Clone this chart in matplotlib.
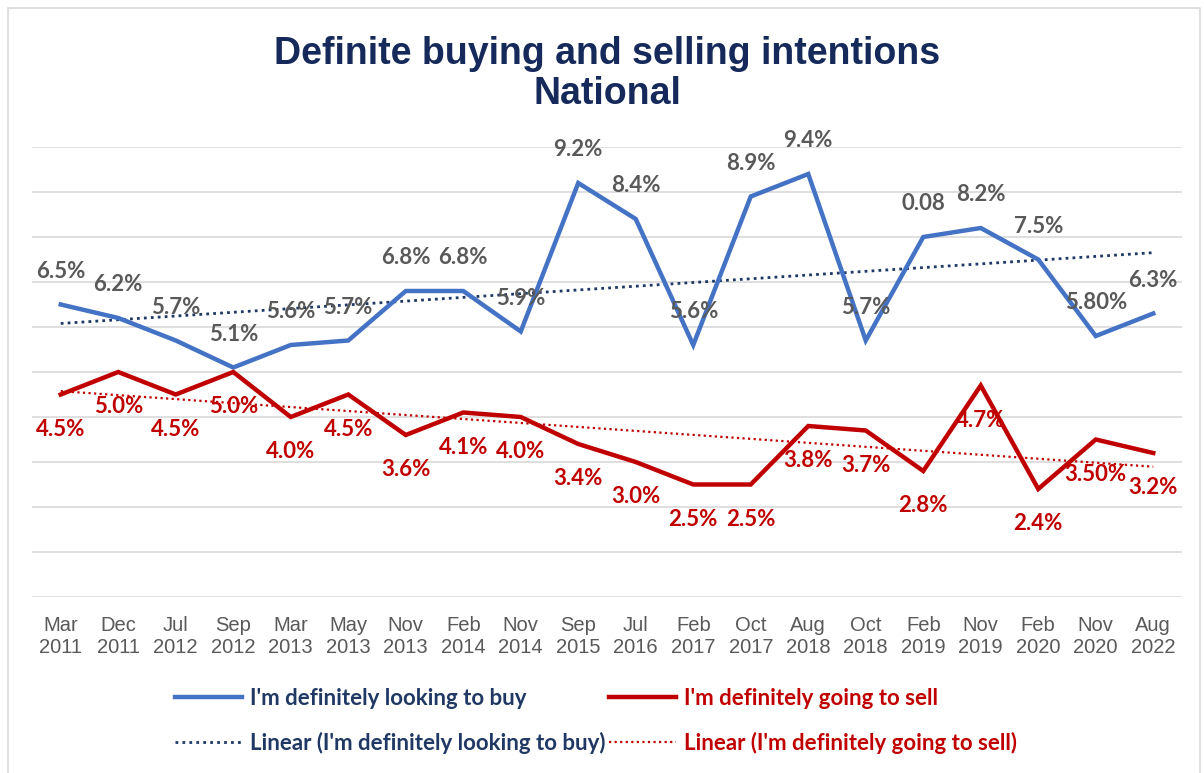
import numpy as np
import matplotlib
matplotlib.use("Agg")
import matplotlib.pyplot as plt
from matplotlib.patches import Rectangle

categories = ["Mar\n2011", "Dec\n2011", "Jul\n2012", "Sep\n2012", "Mar\n2013", "May\n2013",
              "Nov\n2013", "Feb\n2014", "Nov\n2014", "Sep\n2015", "Jul\n2016", "Feb\n2017",
              "Oct\n2017", "Aug\n2018", "Oct\n2018", "Feb\n2019", "Nov\n2019", "Feb\n2020",
              "Nov\n2020", "Aug\n2022"]
buy = [6.5, 6.2, 5.7, 5.1, 5.6, 5.7, 6.8, 6.8, 5.9, 9.2, 8.4, 5.6, 8.9, 9.4, 5.7, 8.0, 8.2, 7.5, 5.8, 6.3]
sell = [4.5, 5.0, 4.5, 5.0, 4.0, 4.5, 3.6, 4.1, 4.0, 3.4, 3.0, 2.5, 2.5, 3.8, 3.7, 2.8, 4.7, 2.4, 3.5, 3.2]
buy_labels = ["6.5%", "6.2%", "5.7%", "5.1%", "5.6%", "5.7%", "6.8%", "6.8%", "5.9%", "9.2%",
              "8.4%", "5.6%", "8.9%", "9.4%", "5.7%", "0.08", "8.2%", "7.5%", "5.80%", "6.3%"]
sell_labels = ["4.5%", "5.0%", "4.5%", "5.0%", "4.0%", "4.5%", "3.6%", "4.1%", "4.0%", "3.4%",
               "3.0%", "2.5%", "2.5%", "3.8%", "3.7%", "2.8%", "4.7%", "2.4%", "3.50%", "3.2%"]
title = "Definite buying and selling intentions\nNational"
buy_name = "I'm definitely looking to buy"
sell_name = "I'm definitely going to sell"

BLUE = "#4472C4"
RED = "#C00000"
NAVY = "#1F3864"
TITLE = "#15295A"
GRAY = "#595959"

W, H = 1204, 773
fig = plt.figure(figsize=(W / 100, H / 100), dpi=100)
fig.patch.set_facecolor("white")
fig.patches.append(Rectangle((8 / W, -0.01), (1200 - 8) / W, 1 - 8 / H + 0.01,
                             transform=fig.transFigure, fill=False,
                             edgecolor="#d9d9d9", linewidth=1.2))

ax = fig.add_axes([32 / W, (H - 597) / H, (1182 - 32) / W, (597 - 147) / H])
x = np.arange(len(categories))
ax.set_xlim(-0.5, len(categories) - 0.5)
ax.set_ylim(0, 10)
ax.set_yticks(np.arange(0, 11, 1))
ax.yaxis.grid(True, color="#d9d9d9", linewidth=1.2)
ax.set_axisbelow(True)
ax.tick_params(axis="y", left=False, labelleft=False)
ax.tick_params(axis="x", bottom=False, pad=10)
for s in ax.spines.values():
    s.set_visible(False)
ax.set_xticks(x)
ax.set_xticklabels(categories, fontsize=14.5, color=GRAY, family="Liberation Sans",
                   linespacing=1.22)

zb = np.polyfit(x, buy, 1)
zs = np.polyfit(x, sell, 1)
lb, = ax.plot(x, buy, color=BLUE, lw=3.2, solid_joinstyle="miter", zorder=3)
ls, = ax.plot(x, sell, color=RED, lw=3.2, solid_joinstyle="miter", zorder=3)
tb, = ax.plot(x, np.polyval(zb, x), color=NAVY, lw=2.0, ls=(0, (1, 1.5)), zorder=2)
ts, = ax.plot(x, np.polyval(zs, x), color=RED, lw=1.6, ls=(0, (1, 1.5)), zorder=2)

lab_font = dict(family="Lato", fontweight="bold", fontsize=16)
for xi, v, t in zip(x, buy, buy_labels):
    ax.annotate(t, (xi, v), xytext=(0, 24), textcoords="offset points",
                ha="center", va="center", color=GRAY, zorder=4, **lab_font)
for xi, v, t in zip(x, sell, sell_labels):
    ax.annotate(t, (xi, v), xytext=(0, -25), textcoords="offset points",
                ha="center", va="center", color=RED, zorder=4, **lab_font)

fig.text(607 / W, 1 - 74 / H, title, ha="center", va="center", fontsize=27,
         fontweight="bold", color=TITLE, family="Liberation Sans", linespacing=1.17)

leg = fig.legend([lb, tb, ls, ts],
                 [buy_name, "Linear (" + buy_name + ")", sell_name, "Linear (" + sell_name + ")"],
                 ncol=2, loc="center", bbox_to_anchor=(596 / W, 1 - 721 / H),
                 frameon=False, prop=dict(family="Lato", weight="bold", size=16),
                 handlelength=3.0, handletextpad=0.36, columnspacing=0.2, labelspacing=1.05)
for txt, c in zip(leg.get_texts(), [NAVY, NAVY, RED, RED]):
    txt.set_color(c)

fig.savefig("out.png", dpi=100, facecolor="white")
